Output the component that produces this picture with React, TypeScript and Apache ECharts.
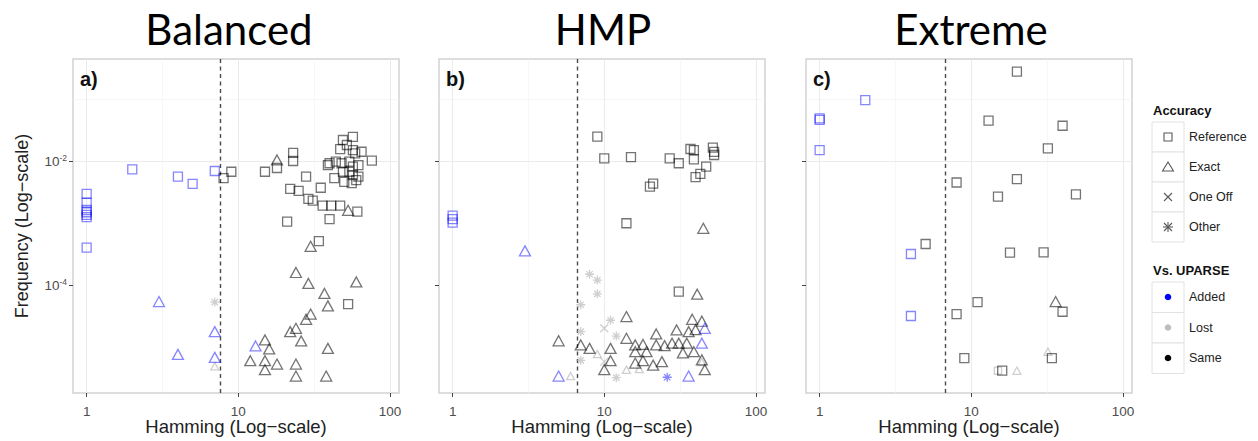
import React, { useEffect, useRef } from "react";
import * as echarts from "echarts";

type Pt = [number, number];

// ---------- axes / layout-independent values ----------
const panelTitles = ["Balanced", "HMP", "Extreme"];
const panelTags = ["a)", "b)", "c)"];
const xTickValues = [1, 10, 100];
const yTickValues = [1e-4, 1e-2];
const xMinorGrid = [3.1623, 31.623];
const yMinorGrid = [1e-5, 1e-3, 1e-1];
const cutoffs = [7.55, 6.68, 6.75];
const xRange = [0.813, 114.8];
const yRange = [1.81e-6, 0.4416];
const accuracyLevels = ["Reference", "Exact", "One Off", "Other"];
const vsLevels = ["Added", "Lost", "Same"];

// ---------- Balanced ----------
const balancedRefAdded: Pt[] = [
  [1, 0.00294], [1, 0.00213], [1, 0.00162], [1, 0.00149], [1, 0.00135], [1, 0.00124], [1, 0.0004],
  [2, 0.0073], [4, 0.0056], [5, 0.00426], [7, 0.0069],
];
const balancedRefSame: Pt[] = [
  [8, 0.0053], [9, 0.0067], [15, 0.0067], [18, 0.0077], [23, 0.0135], [23, 0.01], [28, 0.0056],
  [22, 0.00355], [25, 0.0033], [35, 0.0037], [29, 0.00244], [31, 0.0023], [36, 0.0019], [41, 0.0019],
  [47, 0.0019], [61, 0.00152], [21, 0.00105], [40, 0.00115], [34, 0.00051], [53, 0.000049],
  [57, 0.0244], [76, 0.0101], [49, 0.0218], [47, 0.0155], [52, 0.0181], [57, 0.015], [65, 0.0141],
  [40, 0.0092], [39, 0.0086], [44, 0.0098], [48, 0.0092], [54, 0.0098], [62, 0.0086], [49, 0.0067],
  [54, 0.0067], [57, 0.0059], [62, 0.0056], [43, 0.0053], [50, 0.0046], [56, 0.0044], [60, 0.0049],
  [57, 0.0081], [59, 0.0133],
];
const balancedExactAdded: Pt[] = [
  [3, 0.000054], [4, 0.0000076], [7, 0.0000177], [7, 0.0000068], [13, 0.0000104],
];
const balancedExactSame: Pt[] = [
  [18, 0.0104], [53, 0.0016], [30, 0.00042], [24, 0.000159], [29, 0.000106], [60, 0.000112],
  [37, 0.000073], [39, 0.000046], [30, 0.000034], [28, 0.000028], [22, 0.0000177], [24, 0.00002],
  [26, 0.0000125], [15, 0.000013], [16, 0.0000093], [39, 0.0000095], [12, 0.000006], [15, 0.000006],
  [18, 0.0000053], [24, 0.0000053], [15, 0.0000043], [24, 0.0000034], [38, 0.0000034],
];
const balancedExactLost: Pt[] = [[7, 0.0000049]];
const balancedOtherLost: Pt[] = [[7, 0.000053]];

// ---------- HMP ----------
const hmpRefAdded: Pt[] = [[1, 0.00131], [1, 0.00115], [1, 0.00101]];
const hmpRefSame: Pt[] = [
  [9, 0.0247], [10, 0.011], [15, 0.0115], [27, 0.011], [31, 0.0092], [37, 0.0156], [39, 0.015],
  [39, 0.0106], [47, 0.0081], [43, 0.0062], [40, 0.0055], [52, 0.0164], [53, 0.0125], [53, 0.014],
  [20, 0.00385], [21, 0.0043], [14, 0.00099], [31, 0.000078],
];
const hmpExactAdded: Pt[] = [
  [3, 0.000355], [5, 0.0000034], [36, 0.0000034], [46, 0.00002], [44, 0.0000115],
];
const hmpExactSame: Pt[] = [
  [45, 0.00082], [41, 0.000071], [14, 0.000031], [5, 0.0000126], [7, 0.0000108], [8, 0.0000095],
  [11, 0.0000095], [11, 0.000006], [10, 0.0000043], [14, 0.0000138], [16, 0.0000108], [18, 0.000011],
  [19, 0.0000084], [16, 0.0000084], [16, 0.0000055], [18, 0.000006], [21, 0.0000051], [24, 0.0000058],
  [22, 0.0000162], [22, 0.0000108], [25, 0.0000105], [28, 0.0000115], [30, 0.0000188], [31, 0.0000115],
  [33, 0.000008], [35, 0.0000115], [38, 0.000028], [36, 0.0000177], [39, 0.0000084], [40, 0.000019],
  [44, 0.000026], [44, 0.0000062], [46, 0.0000043],
];
const hmpExactLost: Pt[] = [
  [6, 0.0000034], [9, 0.0000077], [14, 0.0000043], [17, 0.0000044], [44, 0.0000057],
];
const hmpOneOffLost: Pt[] = [[10, 0.00002], [10, 0.0000058]];
const hmpOtherLost: Pt[] = [
  [8, 0.000149], [9, 0.00012], [9, 0.000072], [7, 0.000048], [7, 0.0000177], [11, 0.000027],
  [12, 0.000015], [7, 0.0000061], [12, 0.0000032],
];
const hmpOtherAdded: Pt[] = [[26, 0.00000325]];

// ---------- Extreme ----------
const extremeRefAdded: Pt[] = [
  [1, 0.0488], [1, 0.046], [1, 0.015], [2, 0.096], [4, 0.000316], [4, 0.0000316],
];
const extremeRefSame: Pt[] = [
  [20, 0.276], [13, 0.0447], [40, 0.037], [32, 0.016], [8, 0.0045], [20, 0.0051], [15, 0.00266],
  [49, 0.0029], [5, 0.000458], [18, 0.000333], [30, 0.000336], [11, 0.000053], [8, 0.000034],
  [40, 0.000037], [9, 0.0000066], [34, 0.0000066], [16, 0.00000415],
];
const extremeRefLost: Pt[] = [[15, 0.00000415]];
const extremeExactSame: Pt[] = [[36, 0.000054]];
const extremeExactLost: Pt[] = [[32, 0.0000084], [20, 0.00000415]];

type Group = { acc: string; vs: string; data: Pt[] };
const panels: Group[][] = [
  [
    { acc: "Exact", vs: "Lost", data: balancedExactLost },
    { acc: "Other", vs: "Lost", data: balancedOtherLost },
    { acc: "Reference", vs: "Same", data: balancedRefSame },
    { acc: "Exact", vs: "Same", data: balancedExactSame },
    { acc: "Reference", vs: "Added", data: balancedRefAdded },
    { acc: "Exact", vs: "Added", data: balancedExactAdded },
  ],
  [
    { acc: "Exact", vs: "Lost", data: hmpExactLost },
    { acc: "One Off", vs: "Lost", data: hmpOneOffLost },
    { acc: "Other", vs: "Lost", data: hmpOtherLost },
    { acc: "Reference", vs: "Same", data: hmpRefSame },
    { acc: "Exact", vs: "Same", data: hmpExactSame },
    { acc: "Reference", vs: "Added", data: hmpRefAdded },
    { acc: "Exact", vs: "Added", data: hmpExactAdded },
    { acc: "Other", vs: "Added", data: hmpOtherAdded },
  ],
  [
    { acc: "Reference", vs: "Lost", data: extremeRefLost },
    { acc: "Exact", vs: "Lost", data: extremeExactLost },
    { acc: "Reference", vs: "Same", data: extremeRefSame },
    { acc: "Exact", vs: "Same", data: extremeExactSame },
    { acc: "Reference", vs: "Added", data: extremeRefAdded },
  ],
];

const SYMBOLS: Record<string, string> = {
  Reference: "rect",
  Exact: "triangle",
  "One Off": "path://M0,0L10,10M10,0L0,10",
  Other: "path://M5,0L5,10M0,5L10,5M1.5,1.5L8.5,8.5M8.5,1.5L1.5,8.5",
};
const SIZES: Record<string, number[]> = {
  Reference: [9, 9],
  Exact: [11, 10],
  "One Off": [8, 8],
  Other: [9, 9],
};
const LOST_SCALE: Record<string, number> = { Reference: 0.8, Exact: 0.72, "One Off": 1, Other: 1 };
const COLORS: Record<string, string> = {
  Added: "rgba(0,0,255,0.6)",
  Lost: "rgba(175,175,175,0.75)",
  Same: "rgba(0,0,0,0.68)",
};
const KEY_DOT: Record<string, string> = { Added: "#0000ff", Lost: "#bebebe", Same: "#000000" };

const FONT = "'Liberation Sans', Arial, Helvetica, sans-serif";
const GRID_LEFTS = [73, 439, 806];
const GRID_TOP = 59;
const GRID_W = 326;
const GRID_H = 334;
const TITLE_X = [229, 603, 971];

function buildOption() {
  const grid = GRID_LEFTS.map((left) => ({
    left, top: GRID_TOP, width: GRID_W, height: GRID_H, show: true,
    outerBoundsMode: "none", containLabel: false,
    borderColor: "#d2d2d2", borderWidth: 1.5, backgroundColor: "#ffffff",
  }));
  const xAxis = GRID_LEFTS.map((_, i) => ({
    type: "log", logBase: 10, gridIndex: i, min: xRange[0], max: xRange[1],
    name: "Hamming (Log\u2212scale)", nameLocation: "middle", nameGap: 24, nameMoveOverlap: false,
    nameTextStyle: { fontSize: 18.5, color: "#222", fontFamily: FONT },
    axisLine: { show: false },
    axisTick: { show: true, customValues: xTickValues, length: 4, lineStyle: { color: "#444", width: 1 } },
    axisLabel: { customValues: xTickValues, fontSize: 13.5, color: "#4d4d4d", fontFamily: FONT, margin: 11 },
    splitLine: { show: false },
  }));
  const yAxis = GRID_LEFTS.map((_, i) => ({
    type: "log", logBase: 10, gridIndex: i, min: yRange[0], max: yRange[1],
    name: i === 0 ? "Frequency (Log\u2212scale)" : "", nameLocation: "middle", nameGap: 42, nameRotate: 90,
    nameMoveOverlap: false,
    nameTextStyle: { fontSize: 18, color: "#222", fontFamily: FONT },
    axisLine: { show: false },
    axisTick: { show: true, customValues: yTickValues, length: 4, lineStyle: { color: "#444", width: 1 } },
    axisLabel: {
      show: i === 0, customValues: yTickValues, margin: 6,
      formatter: (v: number) => {
        const e = Math.round(Math.log10(v));
        return "{b|10}{s|" + String(e) + "}";
      },
      rich: {
        b: { fontSize: 13.5, color: "#4d4d4d", fontFamily: FONT, verticalAlign: "bottom" },
        s: { fontSize: 8.5, color: "#4d4d4d", fontFamily: FONT, verticalAlign: "bottom", padding: [0, 0, 6, 0] },
      },
    },
    splitLine: { show: false },
  }));

  const series: any[] = [];
  GRID_LEFTS.forEach((_, i) => {
    const major = { color: "#ebebeb", width: 1, type: "solid" };
    const minor = { color: "#f3f3f3", width: 0.7, type: "solid" };
    series.push({
      type: "scatter", xAxisIndex: i, yAxisIndex: i, data: [], z: 1, silent: true,
      markLine: {
        silent: true, symbol: "none", z: 1, label: { show: false }, animation: false,
        data: [
          ...xMinorGrid.map((v) => ({ xAxis: v, lineStyle: minor })),
          ...yMinorGrid.map((v) => ({ yAxis: v, lineStyle: minor })),
          ...xTickValues.map((v) => ({ xAxis: v, lineStyle: major })),
          ...yTickValues.map((v) => ({ yAxis: v, lineStyle: major })),
        ],
      },
    });
    series.push({
      type: "scatter", xAxisIndex: i, yAxisIndex: i, data: [], z: 2, silent: true,
      markLine: {
        silent: true, symbol: "none", z: 2, label: { show: false }, animation: false,
        data: [{ xAxis: cutoffs[i], lineStyle: { color: "#4a4a4a", width: 1.4, type: [4, 3.5] } }],
      },
    });
    panels[i].forEach((g) => {
      const lost = g.vs === "Lost";
      const sz = SIZES[g.acc].map((s) => (lost ? s * LOST_SCALE[g.acc] : s));
      series.push({
        type: "scatter", xAxisIndex: i, yAxisIndex: i, z: 3,
        name: g.acc + " / " + g.vs,
        symbol: SYMBOLS[g.acc], symbolSize: sz,
        itemStyle: { color: "rgba(0,0,0,0)", borderColor: COLORS[g.vs], borderWidth: 1.3 },
        data: g.data,
      });
    });
  });

  const graphic: any[] = [];
  panelTitles.forEach((t, i) => {
    graphic.push({
      type: "text", x: TITLE_X[i], y: 29,
      style: { text: t, fontSize: 42, fontFamily: "Lato, 'Open Sans', sans-serif", fill: "#000", align: "center", verticalAlign: "middle" },
    });
    graphic.push({
      type: "text", x: GRID_LEFTS[i] + 7, y: 79, z: 10,
      style: { text: panelTags[i], fontSize: 20, fontWeight: "bold", fontFamily: FONT, fill: "#111", align: "left", verticalAlign: "middle" },
    });
  });

  // legend
  const LX = 1152, KW = 32, KH = 30, cx = LX + KW / 2;
  const keyStroke = "#595959";
  graphic.push({
    type: "text", x: 1153, y: 110,
    style: { text: "Accuracy", fontSize: 13, fontWeight: "bold", fontFamily: FONT, fill: "#111", verticalAlign: "middle" },
  });
  accuracyLevels.forEach((lab, k) => {
    const top = 122 + k * KH;
    const cy = top + KH / 2;
    graphic.push({ type: "rect", shape: { x: LX, y: top, width: KW, height: KH }, style: { fill: "#fff", stroke: "#e2e2e2", lineWidth: 1 } });
    if (lab === "Reference") {
      graphic.push({ type: "rect", shape: { x: cx - 4, y: cy - 4, width: 8, height: 8 }, style: { fill: "none", stroke: keyStroke, lineWidth: 1.1 } });
    } else if (lab === "Exact") {
      graphic.push({ type: "polygon", shape: { points: [[cx, cy - 5], [cx + 5.5, cy + 4], [cx - 5.5, cy + 4]] }, style: { fill: "none", stroke: keyStroke, lineWidth: 1.1 } });
    } else if (lab === "One Off") {
      graphic.push({ type: "line", shape: { x1: cx - 4, y1: cy - 4, x2: cx + 4, y2: cy + 4 }, style: { stroke: keyStroke, lineWidth: 1.1 } });
      graphic.push({ type: "line", shape: { x1: cx + 4, y1: cy - 4, x2: cx - 4, y2: cy + 4 }, style: { stroke: keyStroke, lineWidth: 1.1 } });
    } else {
      graphic.push({ type: "line", shape: { x1: cx - 4, y1: cy - 4, x2: cx + 4, y2: cy + 4 }, style: { stroke: keyStroke, lineWidth: 1.1 } });
      graphic.push({ type: "line", shape: { x1: cx + 4, y1: cy - 4, x2: cx - 4, y2: cy + 4 }, style: { stroke: keyStroke, lineWidth: 1.1 } });
      graphic.push({ type: "line", shape: { x1: cx, y1: cy - 5, x2: cx, y2: cy + 5 }, style: { stroke: keyStroke, lineWidth: 1.1 } });
      graphic.push({ type: "line", shape: { x1: cx - 5, y1: cy, x2: cx + 5, y2: cy }, style: { stroke: keyStroke, lineWidth: 1.1 } });
    }
    graphic.push({ type: "text", x: LX + KW + 5, y: cy, style: { text: lab, fontSize: 12.5, fontFamily: FONT, fill: "#222", verticalAlign: "middle" } });
  });
  graphic.push({
    type: "text", x: 1153, y: 270,
    style: { text: "Vs. UPARSE", fontSize: 13, fontWeight: "bold", fontFamily: FONT, fill: "#111", verticalAlign: "middle" },
  });
  vsLevels.forEach((lab, k) => {
    const top = 282 + k * 30.5;
    const cy = top + 15;
    graphic.push({ type: "rect", shape: { x: LX, y: top, width: KW, height: 30.5 }, style: { fill: "#fff", stroke: "#e2e2e2", lineWidth: 1 } });
    graphic.push({ type: "circle", shape: { cx, cy, r: 3.3 }, style: { fill: KEY_DOT[lab] } });
    graphic.push({ type: "text", x: LX + KW + 5, y: cy, style: { text: lab, fontSize: 12.5, fontFamily: FONT, fill: "#222", verticalAlign: "middle" } });
  });

  return {
    animation: false,
    backgroundColor: "#ffffff",
    textStyle: { fontFamily: FONT },
    grid, xAxis, yAxis, series, graphic,
  };
}

export default function App() {
  const ref = useRef<HTMLDivElement>(null);
  useEffect(() => {
    if (!ref.current) return;
    const chart = echarts.init(ref.current, undefined, { renderer: "svg" });
    chart.setOption(buildOption() as any);
    return () => chart.dispose();
  }, []);
  return (
    <div
      ref={ref}
      style={{ position: "fixed", left: 0, top: 0, width: 1258, height: 441, background: "#fff" }}
    />
  );
}
